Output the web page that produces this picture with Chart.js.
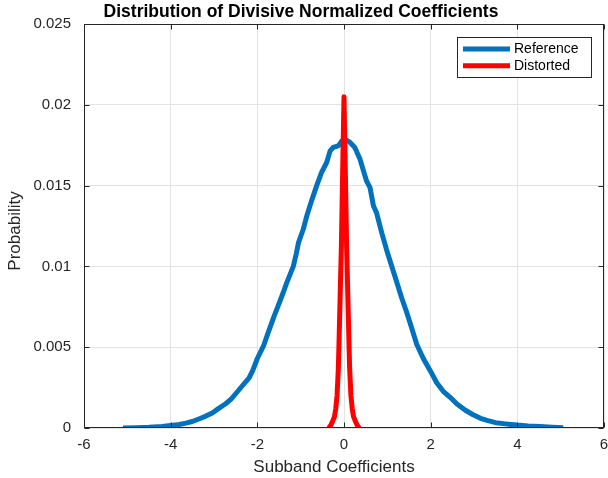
<!DOCTYPE html>
<html>
<head>
<meta charset="utf-8">
<script src="https://cdn.jsdelivr.net/npm/chart.js@4"></script>
<style>
  html, body { margin: 0; padding: 0; background: #fff; }
  #wrap { width: 608px; height: 478px; }
</style>
</head>
<body>
<div id="wrap"><canvas id="myChart" width="608" height="478"></canvas></div>
<script>
// Reference (blue) curve
const refX = [-5.1, -4.8, -4.5, -4.2, -4.0, -3.8, -3.65, -3.5, -3.35, -3.2, -3.04, -2.9, -2.73, -2.6, -2.5, -2.35,
    -2.19, -2.1, -2.0, -1.86, -1.75, -1.63, -1.5, -1.4, -1.32, -1.17, -1.1, -1.05, -0.94, -0.85, -0.75, -0.63,
    -0.52, -0.4, -0.32, -0.25, -0.13, -0.05, 0.02, 0.14, 0.25, 0.37, 0.45, 0.52, 0.6, 0.68, 0.75, 0.87, 0.98,
    1.1, 1.22, 1.33, 1.45, 1.56, 1.68, 1.83, 2.0, 2.14, 2.29, 2.45, 2.6, 2.8, 2.98, 3.15, 3.3, 3.5, 3.68, 3.85,
    4.0, 4.25, 4.52, 4.8, 5.06];
const refY = [0, 0.00002, 0.00005, 0.0001, 0.00016, 0.00022, 0.0003, 0.0004, 0.00056, 0.00072, 0.00093, 0.0012, 0.0015, 0.0018, 0.00212, 0.0026,
    0.0031, 0.0036, 0.0043, 0.00506, 0.0059, 0.0068, 0.0077, 0.0084, 0.009, 0.0100, 0.0108, 0.01147, 0.0123, 0.0132, 0.01405, 0.015,
    0.0158, 0.01643, 0.01715, 0.01736, 0.01746, 0.01777, 0.01787, 0.01767, 0.01736, 0.01663, 0.01591, 0.01529, 0.01488, 0.01374, 0.01333, 0.01209, 0.01105,
    0.01002, 0.009, 0.00806, 0.00713, 0.0062, 0.00517, 0.0043, 0.0035, 0.0028, 0.00227, 0.0019, 0.0015, 0.0011, 0.00082, 0.0006, 0.00047, 0.00033, 0.00027, 0.00022,
    0.00018, 0.00013, 0.0001, 0.00005, 0.00001];

// Distorted (red) curve
const distX = [-0.35, -0.3, -0.25, -0.22, -0.19, -0.16, -0.13, -0.11, -0.09, -0.06, -0.03, 0, 0.03, 0.06, 0.09, 0.11, 0.13, 0.16, 0.19, 0.22, 0.25, 0.3, 0.35];
const distY = [0, 0.0002, 0.0005, 0.0007, 0.0012, 0.002, 0.0037, 0.0058, 0.008, 0.0113, 0.016, 0.0205, 0.016, 0.0113, 0.008, 0.0058, 0.0037, 0.002, 0.0012, 0.0007, 0.0005, 0.0002, 0];

const xTicks = [-6, -4, -2, 0, 2, 4, 6];
const yTicks = [0, 0.005, 0.01, 0.015, 0.02, 0.025];

const seriesNames = ['Reference', 'Distorted'];
const titleText = 'Distribution of Divisive Normalized Coefficients';
const xTitle = 'Subband Coefficients';
const yTitle = 'Probability';

const FONT = '"Liberation Sans", Arial, Helvetica, sans-serif';
const AXIS_COLOR = '#262626';

function toPoints(xs, ys) {
    return xs.map((x, i) => ({ x: x, y: ys[i] }));
}

// frame, inner ticks, titles and the boxed legend (MATLAB look)
const matlabLook = {
    id: 'matlabLook',
    afterDraw(chart) {
        const ctx = chart.ctx;
        const a = chart.chartArea;
        const sx = chart.scales.x, sy = chart.scales.y;
        const L = Math.round(a.left) + 0.5, R = Math.round(a.right) - 0.5;
        const T = Math.round(a.top) + 0.5, B = Math.round(a.bottom) - 0.5;
        ctx.save();
        ctx.strokeStyle = AXIS_COLOR;
        ctx.lineWidth = 1;
        ctx.strokeRect(L, T, R - L, B - T);

        // inner tick marks
        ctx.beginPath();
        xTicks.forEach(v => {
            const px = Math.round(sx.getPixelForValue(v)) + 0.5;
            ctx.moveTo(px, B); ctx.lineTo(px, B - 5);
            ctx.moveTo(px, T); ctx.lineTo(px, T + 5);
        });
        yTicks.forEach(v => {
            const py = Math.round(sy.getPixelForValue(v)) + 0.5;
            ctx.moveTo(L, py); ctx.lineTo(L + 5, py);
            ctx.moveTo(R, py); ctx.lineTo(R - 5, py);
        });
        ctx.stroke();

        // titles
        ctx.fillStyle = '#000';
        ctx.textAlign = 'center';
        ctx.textBaseline = 'middle';
        ctx.font = 'bold 17.5px ' + FONT;
        ctx.fillText(titleText, 301, 12);
        ctx.fillStyle = AXIS_COLOR;
        ctx.font = '17px ' + FONT;
        ctx.fillText(xTitle, 334, 467);
        ctx.save();
        ctx.translate(15, 231);
        ctx.rotate(-Math.PI / 2);
        ctx.fillText(yTitle, 0, 0);
        ctx.restore();

        // legend box
        const bx = 457.5, by = 37.5, bw = 134, bh = 40;
        ctx.fillStyle = '#fff';
        ctx.fillRect(bx, by, bw, bh);
        ctx.strokeStyle = AXIS_COLOR;
        ctx.strokeRect(bx, by, bw, bh);
        ctx.font = '14px ' + FONT;
        ctx.textAlign = 'left';
        chart.data.datasets.forEach((ds, i) => {
            const ly = 49 + i * 16.7;
            ctx.strokeStyle = ds.borderColor;
            ctx.lineWidth = 5;
            ctx.beginPath();
            ctx.moveTo(463, ly); ctx.lineTo(510, ly);
            ctx.stroke();
            ctx.fillStyle = '#000';
            ctx.fillText(ds.label, 514, ly + 0.5);
        });
        ctx.restore();
    }
};

const ctx = document.getElementById('myChart').getContext('2d');

const data = {
    datasets: [
        {
            label: seriesNames[0],
            data: toPoints(refX, refY),
            borderColor: '#0072BD',
            borderWidth: 5,
            order: 2,
        },
        {
            label: seriesNames[1],
            data: toPoints(distX, distY),
            borderColor: '#FF0000',
            borderWidth: 5,
            order: 1,
        }
    ]
};

const config = {
    type: 'line',
    data: data,
    options: {
        responsive: false,
        animation: false,
        layout: { padding: { top: 24, right: 4, left: 0, bottom: 0 } },
        elements: {
            point: { radius: 0 },
            line: { tension: 0, borderJoinStyle: 'round', fill: false }
        },
        scales: {
            x: {
                type: 'linear',
                min: -6,
                max: 6,
                // fixed size, and no extra room for the end labels
                afterFit: s => { s.height = 50; s.paddingLeft = 0; s.paddingRight = 0; },
                afterBuildTicks: s => { s.ticks = xTicks.map(v => ({ value: v })); },
                ticks: {
                    padding: 8,
                    maxRotation: 0,
                    color: AXIS_COLOR,
                    font: { family: FONT, size: 15 }
                },
                grid: { color: '#e3e3e3', drawTicks: false },
                border: { display: false }
            },
            y: {
                min: 0,
                max: 0.025,
                afterFit: s => { s.width = 84; s.paddingTop = 0; s.paddingBottom = 0; },
                afterBuildTicks: s => { s.ticks = yTicks.map(v => ({ value: v })); },
                ticks: {
                    padding: 13,
                    color: AXIS_COLOR,
                    font: { family: FONT, size: 15 },
                    callback: v => String(+v.toFixed(3))
                },
                grid: { color: '#e3e3e3', drawTicks: false },
                border: { display: false }
            }
        },
        plugins: {
            legend: { display: false },
            tooltip: { enabled: false }
        }
    },
    plugins: [matlabLook]
};

const myChart = new Chart(ctx, config);
</script>
</body>
</html>
